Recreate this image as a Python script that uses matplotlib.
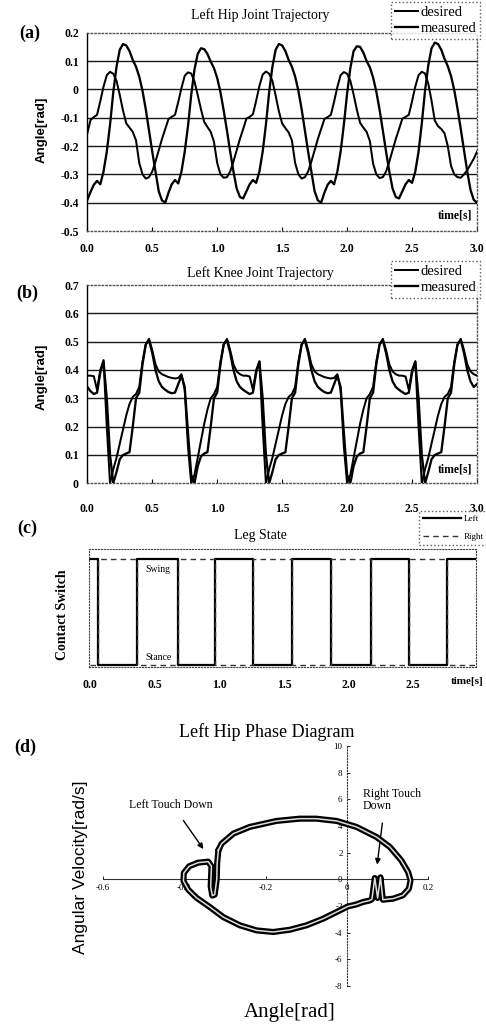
import numpy as np
import matplotlib
matplotlib.use('Agg')
from matplotlib import pyplot as plt

plt.rcParams['font.family'] = ['Liberation Serif', 'DejaVu Serif']
plt.rcParams['axes.unicode_minus'] = False

W, H = 486, 1025

# joint trajectories are sampled every 25 ms over 3 s
t_joint = np.arange(121) * 0.025

hip_desired = [
    -0.155, -0.108, -0.098, -0.09, -0.042, 0.01, 0.05, 0.062, 0.055, 0.03, -0.02, -0.075,
    -0.12, -0.135, -0.15, -0.18, -0.26, -0.30, -0.315, -0.31, -0.29, -0.255, -0.215, -0.175,
    -0.14, -0.105, -0.097, -0.09, -0.045, 0.005, 0.048, 0.06, 0.056, 0.028, -0.02, -0.07,
    -0.115, -0.133, -0.15, -0.185, -0.26, -0.30, -0.312, -0.31, -0.29, -0.255, -0.215, -0.175,
    -0.14, -0.103, -0.097, -0.088, -0.04, 0.012, 0.052, 0.063, 0.055, 0.03, -0.022, -0.078,
    -0.12, -0.137, -0.152, -0.18, -0.26, -0.30, -0.315, -0.31, -0.29, -0.255, -0.215, -0.175,
    -0.14, -0.105, -0.098, -0.09, -0.043, 0.008, 0.05, 0.061, 0.055, 0.03, -0.018, -0.072,
    -0.118, -0.135, -0.15, -0.182, -0.262, -0.30, -0.313, -0.31, -0.29, -0.255, -0.215, -0.175,
    -0.14, -0.104, -0.097, -0.09, -0.042, 0.01, 0.05, 0.062, 0.056, 0.02, -0.04, -0.11,
    -0.13, -0.14, -0.155, -0.20, -0.27, -0.30, -0.31, -0.312, -0.30, -0.285, -0.265, -0.245,
    -0.22,
]
hip_measured = [
    -0.39, -0.362, -0.337, -0.323, -0.335, -0.29, -0.22, -0.125, -0.01, 0.08, 0.14, 0.16,
    0.155, 0.135, 0.104, 0.08, 0.045, -0.005, -0.07, -0.145, -0.22, -0.29, -0.36, -0.392,
    -0.40, -0.365, -0.335, -0.32, -0.332, -0.29, -0.22, -0.13, -0.02, 0.07, 0.125, 0.145,
    0.142, 0.125, 0.098, 0.075, 0.04, -0.01, -0.075, -0.145, -0.22, -0.29, -0.35, -0.38,
    -0.385, -0.36, -0.335, -0.32, -0.33, -0.29, -0.22, -0.125, -0.01, 0.08, 0.14, 0.16,
    0.155, 0.135, 0.104, 0.08, 0.045, -0.005, -0.07, -0.145, -0.22, -0.29, -0.36, -0.392,
    -0.40, -0.365, -0.337, -0.323, -0.335, -0.29, -0.22, -0.125, -0.015, 0.075, 0.135, 0.152,
    0.15, 0.13, 0.10, 0.078, 0.042, -0.008, -0.072, -0.145, -0.22, -0.29, -0.35, -0.38,
    -0.385, -0.36, -0.335, -0.32, -0.33, -0.29, -0.22, -0.12, -0.005, 0.085, 0.145, 0.165,
    0.16, 0.14, 0.108, 0.082, 0.047, -0.003, -0.068, -0.14, -0.215, -0.29, -0.355, -0.39,
    -0.40,
]
knee_desired = [
    0.38, 0.38, 0.378, 0.33, 0.40, 0.435, 0.20, 0.0, 0.05, 0.09, 0.14, 0.19,
    0.24, 0.28, 0.305, 0.315, 0.34, 0.43, 0.49, 0.51, 0.47, 0.42, 0.395, 0.385,
    0.38, 0.375, 0.372, 0.37, 0.372, 0.385, 0.33, 0.13, 0.0, 0.03, 0.09, 0.15,
    0.21, 0.26, 0.30, 0.315, 0.34, 0.43, 0.49, 0.51, 0.47, 0.42, 0.395, 0.385,
    0.38, 0.38, 0.377, 0.33, 0.40, 0.43, 0.20, 0.0, 0.05, 0.09, 0.14, 0.19,
    0.24, 0.28, 0.305, 0.315, 0.34, 0.43, 0.49, 0.51, 0.47, 0.42, 0.395, 0.385,
    0.38, 0.375, 0.372, 0.37, 0.372, 0.385, 0.33, 0.13, 0.0, 0.03, 0.09, 0.15,
    0.21, 0.26, 0.30, 0.315, 0.34, 0.43, 0.49, 0.51, 0.47, 0.42, 0.395, 0.385,
    0.38, 0.38, 0.377, 0.33, 0.40, 0.43, 0.20, 0.0, 0.05, 0.09, 0.14, 0.19,
    0.24, 0.28, 0.305, 0.315, 0.34, 0.43, 0.49, 0.51, 0.47, 0.42, 0.395, 0.385,
    0.38,
]
knee_measured = [
    0.34, 0.325, 0.315, 0.32, 0.39, 0.43, 0.30, 0.10, 0.0, 0.04, 0.085, 0.10,
    0.105, 0.11, 0.20, 0.30, 0.32, 0.42, 0.49, 0.505, 0.46, 0.40, 0.36, 0.34,
    0.33, 0.322, 0.318, 0.32, 0.35, 0.38, 0.34, 0.18, 0.03, 0.0, 0.06, 0.095,
    0.105, 0.11, 0.20, 0.30, 0.32, 0.42, 0.49, 0.505, 0.46, 0.40, 0.36, 0.34,
    0.33, 0.322, 0.315, 0.32, 0.39, 0.43, 0.30, 0.10, 0.0, 0.04, 0.085, 0.10,
    0.105, 0.11, 0.20, 0.30, 0.32, 0.42, 0.49, 0.505, 0.46, 0.40, 0.36, 0.34,
    0.33, 0.322, 0.318, 0.32, 0.35, 0.38, 0.34, 0.18, 0.03, 0.0, 0.06, 0.095,
    0.105, 0.11, 0.20, 0.30, 0.32, 0.42, 0.49, 0.505, 0.46, 0.40, 0.36, 0.34,
    0.33, 0.322, 0.315, 0.32, 0.39, 0.43, 0.30, 0.10, 0.0, 0.04, 0.085, 0.10,
    0.105, 0.11, 0.20, 0.30, 0.32, 0.42, 0.49, 0.505, 0.46, 0.40, 0.36, 0.34,
    0.35,
]

# contact switch: 1 = swing, 0 = stance
switch_t = [0.0, 0.065, 0.36, 0.68, 0.97, 1.26, 1.56, 1.86, 2.17, 2.47, 2.76, 2.985]
switch_left = [1, 0, 1, 0, 1, 0, 1, 0, 1, 0, 1, 1]
switch_right = [0, 1, 0, 1, 0, 1, 0, 1, 0, 1, 0, 0]

# left hip phase loop (angle [rad], angular velocity [rad/s])
phase_angle = [
    -0.316, -0.308, -0.279, -0.239, -0.173, -0.116, -0.075, -0.025, 0.024, 0.073, 0.106,
    0.134, 0.151, 0.157, 0.153, 0.138, 0.114, 0.089, 0.083, 0.076, 0.069, 0.062, 0.055,
    0.040, 0.024, 0.003, -0.025, -0.058, -0.099, -0.140, -0.181, -0.222, -0.263, -0.304,
    -0.337, -0.370, -0.390, -0.402, -0.401, -0.388, -0.366, -0.341, -0.333, -0.335, -0.331,
    -0.325, -0.320, -0.319, -0.316,
]
phase_vel = [
    2.18, 2.68, 3.43, 3.93, 4.38, 4.55, 4.55, 4.38, 3.93, 3.18, 2.43,
    1.43, 0.55, -0.07, -0.70, -1.20, -1.45, -1.53, 0.15, -1.40, 0.10, -1.50, -1.60,
    -1.70, -1.88, -2.03, -2.45, -2.95, -3.45, -3.78, -3.95, -3.83, -3.45, -2.83,
    -2.08, -1.38, -0.78, -0.12, 0.48, 0.98, 1.25, 1.33, 0.98, -0.53, -1.22,
    -1.15, 0.0, 1.20, 2.18,
]

time_ticks = [0.0, 0.5, 1.0, 1.5, 2.0, 2.5, 3.0]
time_labels = ['0.0', '0.5', '1.0', '1.5', '2.0', '2.5', '3.0']
hip_ticks = [0.2, 0.1, 0.0, -0.1, -0.2, -0.3, -0.4, -0.5]
hip_labels = ['0.2', '0.1', '0', '-0.1', '-0.2', '-0.3', '-0.4', '-0.5']
knee_ticks = [0.0, 0.1, 0.2, 0.3, 0.4, 0.5, 0.6, 0.7]
knee_labels = ['0', '0.1', '0.2', '0.3', '0.4', '0.5', '0.6', '0.7']
phase_xticks = [-0.6, -0.4, -0.2, 0.0, 0.2]
phase_xlabels = ['-0.6', '-0.4', '-0.2', '0', '0.2']
phase_yticks = [-8, -6, -4, -2, 0, 2, 4, 6, 8, 10]
phase_ylabels = ['-8', '-6', '-4', '-2', '0', '2', '4', '6', '8', '10']


def box(x0, y0, x1, y1):
    # pixel box (top-left origin) -> figure fraction rect
    return [x0 / W, 1 - y1 / H, (x1 - x0) / W, (y1 - y0) / H]


def ftext(x, y, s, **kw):
    kw.setdefault('ha', 'center')
    kw.setdefault('va', 'center')
    fig.text(x / W, 1 - y / H, s, **kw)


def style_frame(ax):
    for side in ['top', 'right', 'bottom']:
        ax.spines[side].set_linestyle(':')
        ax.spines[side].set_color('#555555')
        ax.spines[side].set_linewidth(1.0)
    ax.spines['left'].set_color('black')
    ax.spines['left'].set_linewidth(1.0)


def joint_panel(rect, y_desired, y_measured, yticks, ylabels, ylim, grid, xpad, leg_top):
    ax = fig.add_axes(rect)
    ax.set_xlim(0, 3)
    ax.set_ylim(*ylim)
    for g in grid:
        ax.axhline(g, color='#1a1a1a', lw=1.0, zorder=1)
    ax.plot(t_joint, y_desired, color='black', lw=1.45, label='desired', zorder=3)
    ax.plot(t_joint, y_measured, color='black', lw=1.65, label='measured', zorder=3)
    ax.set_yticks(yticks)
    ax.set_yticklabels(ylabels, fontsize=8.5, fontweight='bold')
    ax.set_xticks(time_ticks)
    ax.set_xticklabels(time_labels, fontsize=8.5, fontweight='bold')
    ax.tick_params(axis='y', length=0, pad=6)
    ax.tick_params(axis='x', length=3, direction='in', pad=xpad)
    style_frame(ax)
    leg = ax.legend(loc='upper right', bbox_to_anchor=(480 / W, 1 - leg_top / H),
                    bbox_transform=fig.transFigure, fontsize=10.5, frameon=True,
                    fancybox=False, edgecolor='#333333', handlelength=1.6,
                    handletextpad=0.15, labelspacing=0.2, borderpad=0.25,
                    borderaxespad=0)
    leg.get_frame().set_linestyle(':')
    leg.get_frame().set_linewidth(1.0)
    return ax


fig = plt.figure(figsize=(W / 100, H / 100), dpi=100)

# (a) hip trajectory
ax_a = joint_panel(box(87.3, 32.7, 477, 231), hip_desired, hip_measured, hip_ticks,
                   hip_labels, (-0.5, 0.2), [0.1, 0.0, -0.1, -0.2, -0.3, -0.4], 8.5, 2)
ax_a.text(2.83, -0.444, 'time[s]', fontsize=8.5, fontweight='bold', ha='center', va='center')
ftext(260, 15, 'Left Hip Joint Trajectory', fontsize=10)
ftext(42, 130, 'Angle[rad]', rotation=90, fontsize=9.5, fontweight='bold',
      family='Liberation Sans')
ftext(30, 33, '(a)', fontsize=13, fontweight='bold')

# (b) knee trajectory
ax_b = joint_panel(box(87.3, 285, 477, 483.3), knee_desired, knee_measured, knee_ticks,
                   knee_labels, (0, 0.7), [0.1, 0.2, 0.3, 0.4, 0.5, 0.6], 14, 261)
ax_b.text(2.83, 0.047, 'time[s]', fontsize=8.5, fontweight='bold', ha='center', va='center')
ftext(260, 273, 'Left Knee Joint Trajectory', fontsize=10)
ftext(42, 377, 'Angle[rad]', rotation=90, fontsize=9.5, fontweight='bold',
      family='Liberation Sans')
ftext(27, 293, '(b)', fontsize=13, fontweight='bold')

# (c) leg state
ax_c = fig.add_axes(box(89, 549, 476, 667))
ax_c.set_xlim(-0.008, 2.985)
ax_c.set_ylim(-0.019, 1.094)
ax_c.step(switch_t, switch_left, where='post', color='black', lw=1.6, label='Left')
ax_c.step(switch_t, switch_right, where='post', color='#333333', lw=1.0,
          linestyle=(0, (4, 3)), label='Right')
ax_c.set_yticks([])
ax_c.set_xticks(time_ticks[:-1])
ax_c.set_xticklabels(time_labels[:-1], fontsize=8.5, fontweight='bold')
ax_c.tick_params(axis='x', length=0, pad=9)
for side in ax_c.spines:
    ax_c.spines[side].set_linestyle(':')
    ax_c.spines[side].set_color('#444444')
ax_c.text(0.526, 0.905, 'Swing', fontsize=7, ha='center', va='center')
ax_c.text(0.526, 0.075, 'Stance', fontsize=7, ha='center', va='center')
leg_c = ax_c.legend(loc='upper left', bbox_to_anchor=(419 / W, 1 - 511 / H),
                    bbox_transform=fig.transFigure, fontsize=6.5, frameon=True,
                    fancybox=False, edgecolor='#333333', handlelength=4.2,
                    handletextpad=0.3, labelspacing=1.0, borderpad=0.45, borderaxespad=0)
leg_c.get_frame().set_linestyle(':')
ftext(260, 535, 'Leg State', fontsize=10)
ftext(467, 682, 'time[s]', fontsize=8, fontweight='bold')
ftext(63, 615, 'Contact Switch', rotation=90, fontsize=10, fontweight='bold')
ftext(27, 528, '(c)', fontsize=13, fontweight='bold')

# (d) phase diagram
ax_d = fig.add_axes(box(103, 746, 428, 986))
ax_d.set_xlim(-0.6, 0.2)
ax_d.set_ylim(-8, 10)
ax_d.spines['left'].set_position(('data', 0))
ax_d.spines['bottom'].set_position(('data', 0))
ax_d.spines['top'].set_visible(False)
ax_d.spines['right'].set_visible(False)
ax_d.spines['left'].set_linestyle(':')
ax_d.spines['left'].set_color('#333333')
ax_d.spines['bottom'].set_color('#333333')
ax_d.spines['bottom'].set_linewidth(0.8)
ax_d.set_xticks(phase_xticks)
ax_d.set_xticklabels(phase_xlabels, fontsize=6.5)
ax_d.set_yticks(phase_yticks)
ax_d.set_yticklabels(phase_ylabels, fontsize=6.5)
ax_d.tick_params(length=2, direction='in', width=0.6, pad=3)
ax_d.patch.set_visible(False)
ax_d.plot(phase_angle, phase_vel, color='black', lw=4.4, solid_joinstyle='round',
          solid_capstyle='round', zorder=3)
ax_d.plot(phase_angle, phase_vel, color='#dddddd', lw=1.1, solid_joinstyle='round', zorder=4)
ax_d.annotate('', xy=(-0.349, 2.1), xytext=(-0.406, 4.58),
              arrowprops=dict(arrowstyle='-|>', color='black', lw=1.0, mutation_scale=8))
ax_d.annotate('', xy=(0.074, 0.9), xytext=(0.0885, 4.43),
              arrowprops=dict(arrowstyle='-|>', color='black', lw=1.0, mutation_scale=8))
ax_d.text(-0.433, 5.55, 'Left Touch Down', fontsize=8.5, ha='center', va='center')
ax_d.text(0.039, 5.95, 'Right Touch\nDown', fontsize=8.5, ha='left', va='center',
          linespacing=1.0)
ftext(267, 732, 'Left Hip Phase Diagram', fontsize=13)
ftext(290, 1013, 'Angle[rad]', fontsize=15)
ftext(80, 867, 'Angular Velocity[rad/s]', rotation=90, fontsize=12.5,
      family='Liberation Sans')
ftext(25, 747, '(d)', fontsize=13, fontweight='bold')

fig.savefig('out.png', dpi=100)
